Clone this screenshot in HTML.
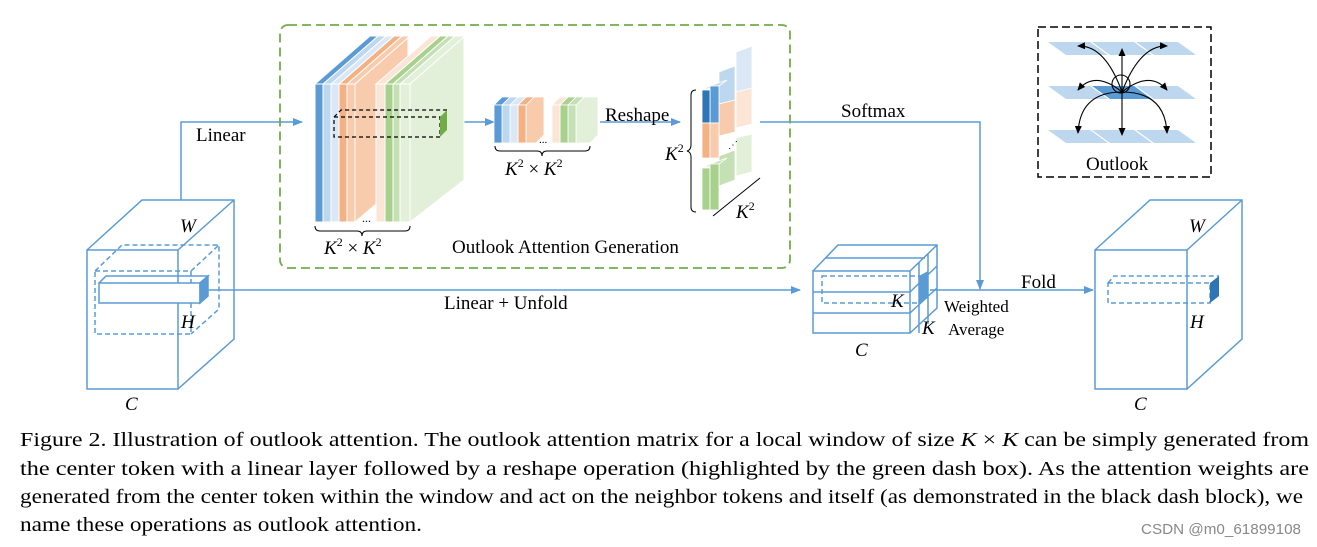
<!DOCTYPE html>
<html><head><meta charset="utf-8"><style>
html,body{margin:0;padding:0;background:#fff;}
svg{display:block;font-family:"Liberation Serif","Times New Roman",serif;}
text{font-family:"Liberation Serif","Times New Roman",serif;fill:#000;}
.i{font-style:italic;}
</style></head><body>
<svg width="1317" height="547" viewBox="0 0 1317 547" xmlns="http://www.w3.org/2000/svg" font-family="Liberation Serif, serif">
<defs>
<marker id="ab" markerWidth="10" markerHeight="8" refX="9" refY="4" orient="auto" markerUnits="userSpaceOnUse"><path d="M0,0 L10,4 L0,8 z" fill="#5b9bd5"/></marker>
<marker id="ak" markerWidth="8" markerHeight="7" refX="7" refY="3.5" orient="auto" markerUnits="userSpaceOnUse"><path d="M0,0 L8,3.5 L0,7 z" fill="#000"/></marker>
</defs>
<g stroke="#5b9bd5" stroke-width="1.5" fill="none">
<!-- left cube -->
<rect x="87" y="250" width="91" height="139"/>
<path d="M87,250 L142,200 L234,200 L234,339 L178,389 M178,250 L234,200"/>
<rect x="95" y="271" width="96" height="63" stroke-dasharray="5,3"/>
<path d="M95,271 L122,245 L219,245 L219,309 L191,334 M191,271 L219,245" stroke-dasharray="5,3"/>
<rect x="99" y="283" width="101" height="20" fill="#fff"/>
<path d="M99,283 L106,276 L208,276 L200,283"/>
<path d="M200,283 L208,276 L208,296 L200,303 z" fill="#5b9bd5"/>
<!-- lines -->
<path d="M208,290 L800,290" marker-end="url(#ab)"/>
<path d="M181,200 L181,122 L302,122" marker-end="url(#ab)"/>
<path d="M447,122 L494,122" marker-end="url(#ab)"/>
<path d="M600,122 L680,122" marker-end="url(#ab)"/>
<path d="M760,122 L980,122 L980,289" marker-end="url(#ab)"/>
<path d="M930,290 L1093,290" marker-end="url(#ab)"/>
<!-- middle cube -->
<rect x="813" y="271" width="97" height="62"/>
<path d="M813,271 L838,245 L937,245 L937,308 L910,333 M910,271 L937,245 M813,292 L910,292 M813,313 L910,313 M825,258 L925,258 M910,292 L937,266 M919,262 L919,333 M928,254 L928,324 M910,313 L937,288"/>
<rect x="822" y="276" width="98" height="27" stroke-dasharray="5,3"/>
<path d="M919,276 L928,271 L928,298 L919,303 z" fill="#5b9bd5" stroke="none"/>
<!-- right cube -->
<rect x="1095" y="250" width="92" height="139"/>
<path d="M1095,250 L1150,200 L1242,200 L1242,339 L1187,389 M1187,250 L1242,200"/>
<rect x="1108" y="283" width="102" height="20" stroke-dasharray="5,3"/>
<path d="M1108,283 L1114,276 L1219,276" stroke-dasharray="5,3"/>
<path d="M1210,283 L1219,276 L1219,296 L1210,303 z" fill="#2e75b6" stroke="none"/>
</g>
<!-- green dashed box -->
<rect x="280" y="25" width="510" height="243" rx="8" fill="none" stroke="#70ad47" stroke-width="1.8" stroke-dasharray="9,5"/>
<!-- big stack -->
<g stroke="#fff" stroke-width="1">
<path d="M410,84 L464,36 L464,180 L410,222 z" fill="#e2f0d9"/>
<path d="M355,84 L408,36 L408,177 L355,222 z" fill="#f8cbad"/>
<!-- slices right to left: front + top -->
<path d="M400,84 L455,36 L465,36 L410,84z" fill="#e2f0d9"/><rect x="400" y="84" width="10" height="138" fill="#e2f0d9"/>
<path d="M393,84 L448,36 L455,36 L400,84z" fill="#c5e0b4"/><rect x="393" y="84" width="7" height="138" fill="#c5e0b4"/>
<path d="M385,84 L440,36 L448,36 L393,84z" fill="#a9d18e"/><rect x="385" y="84" width="8" height="138" fill="#a9d18e"/>
<path d="M376,84 L431,36 L440,36 L385,84z" fill="#fbe5d6"/><rect x="376" y="84" width="9" height="138" fill="#fbe5d6"/>
<path d="M347,84 L402,36 L410,36 L355,84z" fill="#f8cbad"/><rect x="347" y="84" width="8" height="138" fill="#f8cbad"/>
<path d="M339,84 L394,36 L402,36 L347,84z" fill="#f4b183"/><rect x="339" y="84" width="8" height="138" fill="#f4b183"/>
<path d="M331,84 L386,36 L394,36 L339,84z" fill="#dae8f5"/><rect x="331" y="84" width="8" height="138" fill="#dae8f5"/>
<path d="M323,84 L378,36 L386,36 L331,84z" fill="#bdd7ee"/><rect x="323" y="84" width="8" height="138" fill="#bdd7ee"/>
<path d="M315,84 L370,36 L378,36 L323,84z" fill="#5b9bd5"/><rect x="315" y="84" width="8" height="138" fill="#5b9bd5"/>
</g>
<g fill="none" stroke="#000" stroke-width="1.2" stroke-dasharray="4,3">
<rect x="334" y="117" width="106" height="20"/>
<path d="M334,117 L341,110 L447,110"/>
</g>
<path d="M440,117 L447,110 L447,130 L440,137 z" fill="#70ad47"/>
<text x="362" y="222" font-size="12">...</text>
<path d="M315,226 q0,5 5,5 L357,231 q5,0 5,5 q0,-5 5,-5 L405,231 q5,0 5,-5" fill="none" stroke="#000" stroke-width="1"/>
<!-- middle small stack -->
<g stroke="#fff" stroke-width="0.8">
<path d="M576,105 L584,97 L598,97 L598,135 L590,143 L576,143z" fill="#e2f0d9"/>
<path d="M568,105 L576,97 L584,97 L576,105z" fill="#c5e0b4"/><rect x="568" y="105" width="8" height="38" fill="#c5e0b4"/>
<path d="M560,105 L568,97 L576,97 L568,105z" fill="#a9d18e"/><rect x="560" y="105" width="8" height="38" fill="#a9d18e"/>
<path d="M552,105 L560,97 L568,97 L560,105z" fill="#fbe5d6"/><rect x="552" y="105" width="8" height="38" fill="#fbe5d6"/>
<path d="M526,105 L534,97 L544,97 L544,135 L536,143 L526,143z" fill="#f8cbad"/>
<path d="M518,105 L526,97 L534,97 L526,105z" fill="#f4b183"/><rect x="518" y="105" width="8" height="38" fill="#f4b183"/>
<path d="M510,105 L518,97 L526,97 L518,105z" fill="#dae8f5"/><rect x="510" y="105" width="8" height="38" fill="#dae8f5"/>
<path d="M502,105 L510,97 L518,97 L510,105z" fill="#bdd7ee"/><rect x="502" y="105" width="8" height="38" fill="#bdd7ee"/>
<path d="M494,105 L502,97 L510,97 L502,105z" fill="#5b9bd5"/><rect x="494" y="105" width="8" height="38" fill="#5b9bd5"/>
</g>
<text x="539" y="143" font-size="11">...</text>
<path d="M495,146 q0,5 5,5 L537,151 q5,0 5,5 q0,-5 5,-5 L585,151 q5,0 5,-5" fill="none" stroke="#000" stroke-width="1"/>
<!-- reshaped -->
<g stroke="#fff" stroke-width="0.8">
<path d="M736,52 L752,46 L752,88 L736,92z" fill="#dae8f5"/>
<path d="M736,92 L752,88 L752,124 L736,128z" fill="#fbe5d6"/>
<path d="M736,138 L752,134 L752,172 L736,176z" fill="#e2f0d9"/>
<path d="M719,72 L735,66 L735,100 L719,104z" fill="#bdd7ee"/>
<path d="M719,104 L735,100 L735,132 L719,136z" fill="#f8cbad"/>
<path d="M719,156 L735,150 L735,180 L719,186z" fill="#c5e0b4"/>
<path d="M702,90 L710,86 L727,80 L719,86z" fill="#bdd7ee"/>
<rect x="710" y="86" width="9" height="37" fill="#5b9bd5"/>
<rect x="702" y="90" width="8" height="33" fill="#2e75b6"/>
<rect x="702" y="123" width="8" height="35" fill="#f4b183"/>
<rect x="710" y="123" width="9" height="35" fill="#f8cbad"/>
<path d="M702,168 L710,164 L727,158 L719,164z" fill="#c5e0b4"/>
<rect x="702" y="168" width="8" height="42" fill="#a9d18e"/>
<rect x="710" y="164" width="9" height="46" fill="#a9d18e"/>
</g>
<text x="728" y="148" font-size="10">⋰</text>
<path d="M696,90 q-5,0 -5,5 L691,145 q0,5 -4,6 q4,1 4,6 L691,207 q0,5 5,5" fill="none" stroke="#000" stroke-width="1"/>
<path d="M713,216 L760,178" fill="none" stroke="#000" stroke-width="1"/>
<!-- outlook box -->
<rect x="1038" y="27" width="173" height="150" fill="none" stroke="#000" stroke-width="1.5" stroke-dasharray="8,4"/>
<g fill="#bdd7ee">
<path d="M1048,42 L1090,42 L1108,55 L1066,55z"/><path d="M1092,42 L1134,42 L1152,55 L1110,55z"/><path d="M1136,42 L1178,42 L1196,55 L1154,55z"/>
<path d="M1048,86 L1090,86 L1108,99 L1066,99z"/><path d="M1136,86 L1178,86 L1196,99 L1154,99z"/>
<path d="M1048,130 L1090,130 L1108,143 L1066,143z"/><path d="M1092,130 L1134,130 L1152,143 L1110,143z"/><path d="M1136,130 L1178,130 L1196,143 L1154,143z"/>
</g>
<path d="M1092,86 L1134,86 L1152,99 L1110,99z" fill="#5b9bd5"/>
<g fill="none" stroke="#000" stroke-width="1.1">
<circle cx="1121" cy="84" r="9"/>
<path d="M1122,92 L1122,49" marker-end="url(#ak)"/>
<path d="M1122,92 L1122,135" marker-end="url(#ak)"/>
<path d="M1122,92 Q1105,45 1078,46" marker-end="url(#ak)"/>
<path d="M1122,92 Q1140,45 1167,46" marker-end="url(#ak)"/>
<path d="M1122,92 Q1095,70 1078,90" marker-end="url(#ak)"/>
<path d="M1122,92 Q1150,70 1167,90" marker-end="url(#ak)"/>
<path d="M1122,92 Q1080,92 1078,133" marker-end="url(#ak)"/>
<path d="M1122,92 Q1165,92 1167,133" marker-end="url(#ak)"/>
</g>
<!-- labels -->
<g font-size="19">
<text x="196" y="141">Linear</text>
<text x="444" y="309">Linear + Unfold</text>
<text x="605" y="121">Reshape</text>
<text x="841" y="117">Softmax</text>
<text x="1021" y="288">Fold</text>
<text x="452" y="253">Outlook Attention Generation</text>
<text x="1086" y="170">Outlook</text>
<text x="944" y="312" font-size="17">Weighted</text>
<text x="948" y="335" font-size="17">Average</text>
<text class="i" x="180" y="232">W</text>
<text class="i" x="181" y="328">H</text>
<text class="i" x="125" y="410">C</text>
<text class="i" x="1189" y="232">W</text>
<text class="i" x="1190" y="328">H</text>
<text class="i" x="1134" y="410">C</text>
<text class="i" x="855" y="356">C</text>
<text class="i" x="891" y="307">K</text>
<text class="i" x="922" y="334">K</text>
<text class="i" x="324" y="254">K<tspan font-size="12" dy="-8" font-style="normal">2</tspan><tspan dy="8" font-style="normal"> × </tspan>K<tspan font-size="12" dy="-8" font-style="normal">2</tspan></text>
<text class="i" x="505" y="175">K<tspan font-size="12" dy="-8" font-style="normal">2</tspan><tspan dy="8" font-style="normal"> × </tspan>K<tspan font-size="12" dy="-8" font-style="normal">2</tspan></text>
<text class="i" x="665" y="160">K<tspan font-size="12" dy="-8" font-style="normal">2</tspan></text>
<text class="i" x="736" y="218">K<tspan font-size="12" dy="-8" font-style="normal">2</tspan></text>
</g>
<!-- caption -->
<g font-size="19.5">
<text x="20" y="446" textLength="1289" lengthAdjust="spacingAndGlyphs">Figure 2. Illustration of outlook attention. The outlook attention matrix for a local window of size <tspan font-style="italic">K</tspan> × <tspan font-style="italic">K</tspan> can be simply generated from</text>
<text x="20" y="475" textLength="1289" lengthAdjust="spacingAndGlyphs">the center token with a linear layer followed by a reshape operation (highlighted by the green dash box).  As the attention weights are</text>
<text x="20" y="503" textLength="1283" lengthAdjust="spacingAndGlyphs">generated from the center token within the window and act on the neighbor tokens and itself (as demonstrated in the black dash block), we</text>
<text x="20" y="531" textLength="402" lengthAdjust="spacingAndGlyphs">name these operations as outlook attention.</text>
</g>
<text x="1141" y="534" font-size="15" style="font-family:'Liberation Sans',sans-serif;fill:#888" textLength="160" lengthAdjust="spacingAndGlyphs">CSDN @m0_61899108</text>
</svg>
</body></html>
